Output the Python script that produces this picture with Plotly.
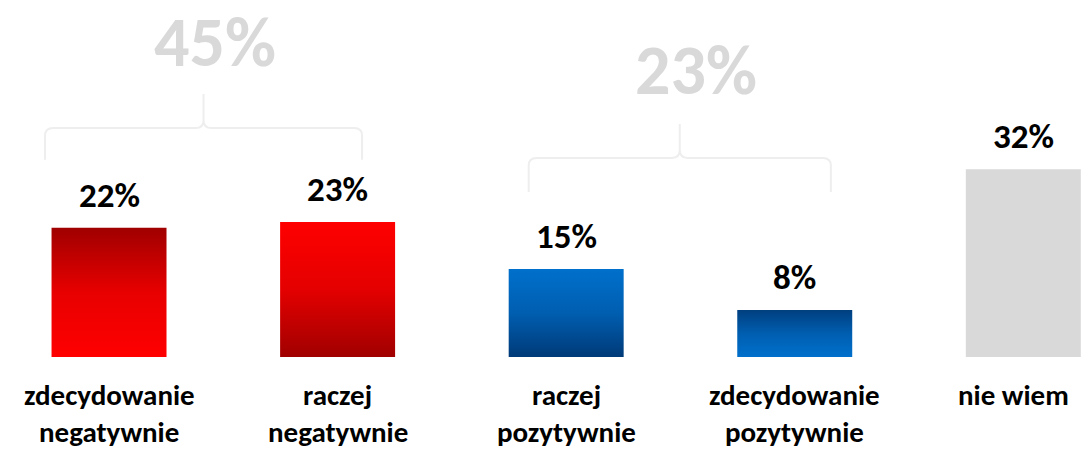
import plotly.graph_objects as go

# data
categories = ["zdecydowanie\nnegatywnie", "raczej\nnegatywnie", "raczej\npozytywnie",
              "zdecydowanie\npozytywnie", "nie wiem"]
values = [22, 23, 15, 8, 32]
groups = [[0, 1], [2, 3]]

# gradient per bar, bottom -> top
gradients = [
    [[0, "#ff0000"], [0.5, "#e80000"], [1, "#a00000"]],
    [[0, "#a00000"], [0.5, "#e40000"], [1, "#ff0000"]],
    [[0, "#003a78"], [0.5, "#005eb0"], [1, "#0070cc"]],
    [[0, "#0070cc"], [0.5, "#005eb0"], [1, "#003f7f"]],
    [[0, "#d9d9d9"], [1, "#d9d9d9"]],
]

FONT = "Carlito, Calibri, Lato, sans-serif"
bar_w = 0.503

fig = go.Figure()

for i, v in enumerate(values):
    x0, x1 = i - bar_w / 2, i + bar_w / 2
    fig.add_trace(go.Scatter(
        x=[x0, x1, x1, x0, x0], y=[0, 0, v, v, 0],
        mode="lines", fill="toself",
        fillgradient=dict(type="vertical", colorscale=gradients[i]),
        line=dict(width=0, color="rgba(0,0,0,0)"),
        hoverinfo="skip", showlegend=False,
    ))
    fig.add_annotation(x=i, y=v, text=f"<b>{v}%</b>", showarrow=False, yshift=33,
                       yanchor="middle", borderpad=0,
                       font=dict(family=FONT, size=35, color="black"))
    lines = categories[i].split("\n")
    for k, ln in enumerate(lines):
        fig.add_annotation(x=i, y=-6.5 - 6.3 * k, text=f"<b>{ln}</b>", showarrow=False,
                           xshift=-10 if i == 4 else 0, borderpad=0,
                           yanchor="middle", font=dict(family=FONT, size=29, color="black"))

# group braces: (left, right, bottom, horizontal, apex, label y, label dx)
brace_geo = [
    (-0.28, 1.107, 33.6, 39.0, 44.8, 53.6, 0.05),
    (1.836, 3.158, 28.1, 33.9, 39.7, 48.9, 0.07),
]


def brace_path(x0, x1, yb, yh, ya):
    xm = (x0 + x1) / 2
    rx, ry = 0.035, 1.3
    return (f"M {x0},{yb} L {x0},{yh - ry} Q {x0},{yh} {x0 + rx},{yh} "
            f"L {xm - rx},{yh} Q {xm},{yh} {xm},{yh + ry} L {xm},{ya} "
            f"M {xm},{yh + ry} Q {xm},{yh} {xm + rx},{yh} "
            f"L {x1 - rx},{yh} Q {x1},{yh} {x1},{yh - ry} L {x1},{yb}")


for g, (x0, x1, yb, yh, ya, yl, lx) in zip(groups, brace_geo):
    fig.add_shape(type="path", path=brace_path(x0, x1, yb, yh, ya),
                  xref="x", yref="y", line=dict(color="#eeeeee", width=2))
    total = sum(values[j] for j in g)
    fig.add_annotation(x=(x0 + x1) / 2 + lx, y=yl, text=f"<b>{total}%</b>", showarrow=False,
                       yanchor="middle", borderpad=0,
                       font=dict(family=FONT, size=70, color="#d9d9d9"))

fig.update_layout(
    width=1088, height=451, margin=dict(l=0, r=0, t=0, b=0),
    paper_bgcolor="white", plot_bgcolor="white",
    xaxis=dict(range=[-0.477, 4.283], visible=False, fixedrange=True),
    yaxis=dict(range=[-16.0, 60.8], visible=False, fixedrange=True),
    showlegend=False,
)

fig.write_html("out.html", config={"displayModeBar": False},
               post_script="document.body.style.margin='0';")
